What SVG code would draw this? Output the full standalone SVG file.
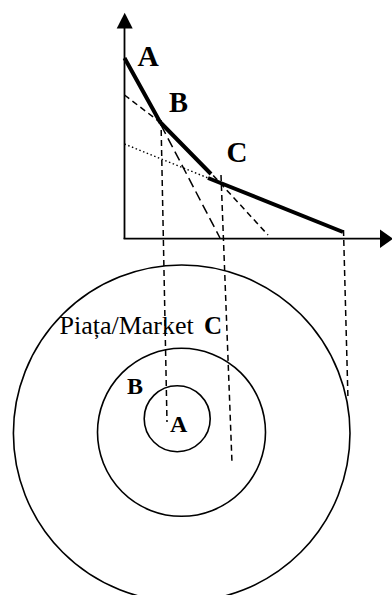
<svg xmlns="http://www.w3.org/2000/svg" width="392" height="595" viewBox="0 0 392 595">
<style>
.ax{stroke:#000;stroke-width:1.8;fill:none}
.thick{stroke:#000;stroke-width:4;fill:none;stroke-linecap:butt;stroke-linejoin:round}
.d{stroke:#000;stroke-width:1.5;fill:none;stroke-dasharray:6 4}
.dl{stroke:#000;stroke-width:1.5;fill:none;stroke-dasharray:10 5}
.dot{stroke:#000;stroke-width:1.4;fill:none;stroke-dasharray:1.5 2.5}
.c{stroke:#000;stroke-width:1.6;fill:none}
.lb{font-family:"Liberation Serif","Times New Roman",serif;font-weight:bold;fill:#000}
.tx{font-family:"Liberation Serif","Times New Roman",serif;fill:#000}
</style>
<rect width="392" height="595" fill="#fff"/>
<g id="circles">
<circle id="market-c" class="c" cx="181.7" cy="433.3" r="168.3"/>
<circle id="market-b" class="c" cx="181.5" cy="432.3" r="84"/>
<circle id="market-a" class="c" cx="177.2" cy="418.7" r="33"/>
</g>
<g id="axes">
<line class="ax" x1="124.5" y1="26" x2="124.5" y2="239"/>
<line class="ax" x1="123.6" y1="238.7" x2="381" y2="238.7"/>
<polygon points="124.7,12.7 116.7,28.5 132.7,28.5" fill="#000"/>
<polygon points="393,238.7 380,229.5 380,247.9" fill="#000"/>
</g>
<g id="connectors">
<polyline class="d" points="124.5,95 161,123 211,173 268,235"/>
<line class="dl" x1="161" y1="125" x2="220" y2="238"/>
<line class="dot" x1="124.5" y1="144" x2="208" y2="178"/>
<line class="d" x1="161" y1="120" x2="167" y2="422"/>
<line class="d" x1="221" y1="175" x2="232" y2="463"/>
<line class="d" x1="343.5" y1="230" x2="348" y2="400"/>
</g>
<g id="curve">
<polyline class="thick" points="124.5,58 160,122 211,174"/>
<polyline class="thick" points="208,178 343,232"/>
</g>
<g id="labels">
<text class="lb" x="137.5" y="66" font-size="29.5">A</text>
<text class="lb" x="169" y="112" font-size="28.5">B</text>
<text class="lb" x="226.5" y="162" font-size="29">C</text>
<text class="tx" x="59.5" y="334" font-size="26">Piața/Market</text>
<text class="lb" x="204" y="334" font-size="25">C</text>
<text class="lb" x="127" y="394" font-size="24">B</text>
<text class="lb" x="170" y="432" font-size="24">A</text>
</g>
</svg>
